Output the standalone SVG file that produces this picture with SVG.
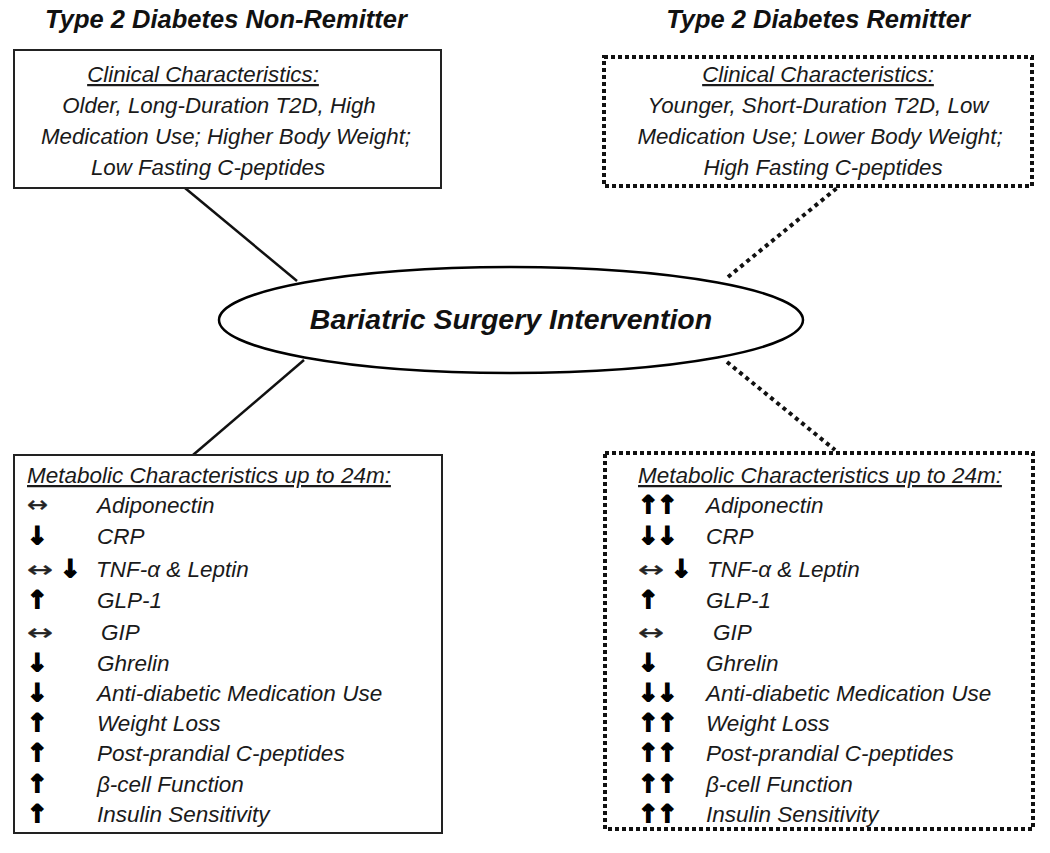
<svg xmlns="http://www.w3.org/2000/svg" width="1050" height="853" viewBox="0 0 1050 853">
<style>
.title{font-family:"Liberation Sans",Arial,sans-serif;font-weight:bold;font-style:italic;font-size:25.5px;fill:#111;text-anchor:middle}
.ct{font-family:"Liberation Sans",Arial,sans-serif;font-style:italic;font-size:22.3px;fill:#1a1a1a;text-anchor:middle}
.lb{font-family:"Liberation Sans",Arial,sans-serif;font-style:italic;font-size:22.5px;fill:#1a1a1a}
.ul{text-decoration:underline}
.ar{font-family:"DejaVu Sans",sans-serif;font-weight:bold;font-size:24px;fill:#000;stroke:#000;stroke-width:1.8}
.dar{font-family:"DejaVu Sans",sans-serif;font-size:22px;fill:#222;stroke:#222;stroke-width:0.4}
.solid{fill:#fff;stroke:#222;stroke-width:2}
.dot{fill:#fff;stroke:#111;stroke-width:4;stroke-dasharray:4 3}
.conn{stroke:#111;stroke-width:2.5;fill:none}
.cdot{stroke:#111;stroke-width:4;stroke-dasharray:4 4;fill:none}
</style>
<rect width="1050" height="853" fill="#fff"/>
<g id="connectors">
<line class="conn" x1="185" y1="188" x2="297" y2="281"/>
<line class="conn" x1="304" y1="360" x2="193" y2="455"/>
<line class="cdot" x1="728" y1="277" x2="837" y2="188"/>
<line class="cdot" x1="727" y1="362" x2="835" y2="450"/>
</g>
<g id="title-nonremitter"><text class="title" x="226" y="28">Type 2 Diabetes Non-Remitter</text></g>
<g id="title-remitter"><text class="title" x="818" y="28">Type 2 Diabetes Remitter</text></g>
<g id="clinical-nonremitter">
<rect class="solid" x="14" y="50" width="427" height="138"/>
<text class="ct ul" x="203" y="82">Clinical Characteristics:</text>
<text class="ct" x="219" y="113">Older, Long-Duration T2D, High</text>
<text class="ct" x="226" y="144">Medication Use; Higher Body Weight;</text>
<text class="ct" x="208" y="175">Low Fasting C-peptides</text>
</g>
<g id="clinical-remitter">
<rect class="dot" x="604" y="57" width="428" height="129"/>
<text class="ct ul" x="818" y="82">Clinical Characteristics:</text>
<text class="ct" x="818" y="113">Younger, Short-Duration T2D, Low</text>
<text class="ct" x="820" y="144">Medication Use; Lower Body Weight;</text>
<text class="ct" x="823" y="175">High Fasting C-peptides</text>
</g>
<g id="intervention">
<ellipse cx="511" cy="320" rx="292" ry="53" fill="#fff" stroke="#000" stroke-width="2.5"/>
<text x="511" y="329" font-family="Liberation Sans, Arial, sans-serif" font-weight="bold" font-style="italic" font-size="28.5" text-anchor="middle" fill="#111">Bariatric Surgery Intervention</text>
</g>
<g id="metabolic-nonremitter">
<rect class="solid" x="14" y="455" width="428" height="378"/>
<text class="lb ul" x="27" y="483">Metabolic Characteristics up to 24m:</text>
<text class="dar" x="27" y="512" font-size="19" textLength="21" lengthAdjust="spacingAndGlyphs">↔</text><text class="lb" x="97" y="513">Adiponectin</text>
<text class="ar" x="27" y="544">↓</text><text class="lb" x="97" y="544">CRP</text>
<text class="dar" x="27" y="577" textLength="26" lengthAdjust="spacingAndGlyphs">↔</text><text class="ar" x="60" y="577">↓</text><text class="lb" x="96" y="577">TNF-α &amp; Leptin</text>
<text class="ar" x="27" y="608">↑</text><text class="lb" x="97" y="608">GLP-1</text>
<text class="dar" x="27" y="640" textLength="26" lengthAdjust="spacingAndGlyphs">↔</text><text class="lb" x="101" y="640">GIP</text>
<text class="ar" x="27" y="671">↓</text><text class="lb" x="97" y="671">Ghrelin</text>
<text class="ar" x="27" y="701">↓</text><text class="lb" x="97" y="701">Anti-diabetic Medication Use</text>
<text class="ar" x="27" y="731">↑</text><text class="lb" x="97" y="731">Weight Loss</text>
<text class="ar" x="27" y="761">↑</text><text class="lb" x="97" y="761">Post-prandial C-peptides</text>
<text class="ar" x="27" y="792">↑</text><text class="lb" x="97" y="792">β-cell Function</text>
<text class="ar" x="27" y="822">↑</text><text class="lb" x="97" y="822">Insulin Sensitivity</text>
</g>
<g id="metabolic-remitter">
<rect class="dot" x="605" y="453" width="428" height="376"/>
<text class="lb ul" x="638" y="483">Metabolic Characteristics up to 24m:</text>
<text class="ar" x="638" y="513" letter-spacing="-1">↑↑</text><text class="lb" x="706" y="513">Adiponectin</text>
<text class="ar" x="638" y="544" letter-spacing="-1">↓↓</text><text class="lb" x="706" y="544">CRP</text>
<text class="dar" x="638" y="577" textLength="26" lengthAdjust="spacingAndGlyphs">↔</text><text class="ar" x="671" y="577">↓</text><text class="lb" x="707" y="577">TNF-α &amp; Leptin</text>
<text class="ar" x="638" y="608">↑</text><text class="lb" x="706" y="608">GLP-1</text>
<text class="dar" x="638" y="640" textLength="26" lengthAdjust="spacingAndGlyphs">↔</text><text class="lb" x="713" y="640">GIP</text>
<text class="ar" x="638" y="671">↓</text><text class="lb" x="706" y="671">Ghrelin</text>
<text class="ar" x="638" y="701" letter-spacing="-1">↓↓</text><text class="lb" x="706" y="701">Anti-diabetic Medication Use</text>
<text class="ar" x="638" y="731" letter-spacing="-1">↑↑</text><text class="lb" x="706" y="731">Weight Loss</text>
<text class="ar" x="638" y="761" letter-spacing="-1">↑↑</text><text class="lb" x="706" y="761">Post-prandial C-peptides</text>
<text class="ar" x="638" y="792" letter-spacing="-1">↑↑</text><text class="lb" x="706" y="792">β-cell Function</text>
<text class="ar" x="638" y="822" letter-spacing="-1">↑↑</text><text class="lb" x="706" y="822">Insulin Sensitivity</text>
</g>
</svg>
